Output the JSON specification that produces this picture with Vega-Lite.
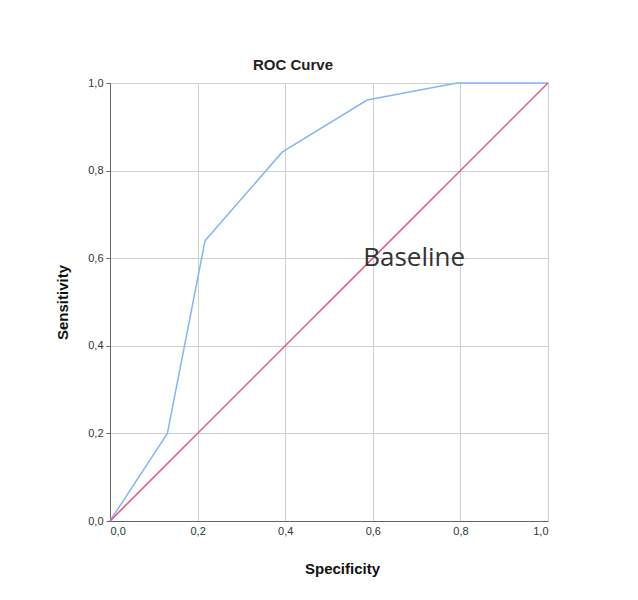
{
  "$schema": "https://vega.github.io/schema/vega-lite/v6.json",
  "autosize": "none",
  "width": 438,
  "height": 438,
  "padding": {"left": 110, "top": 83, "right": 90, "bottom": 79},
  "background": "white",
  "title": {"text": "ROC Curve", "font": "Liberation Sans", "fontSize": 15, "fontWeight": "bold", "color": "#222", "anchor": "middle", "dx": -36, "offset": 4},
  "config": {
    "view": {"stroke": "#bbb"},
    "axis": {"labelFont": "Liberation Sans", "labelFontSize": 11, "labelColor": "#333", "titleFont": "Liberation Sans", "titleFontSize": 15, "titleFontWeight": "bold", "titleColor": "#111", "gridColor": "#cfcfcf", "gridOpacity": 1, "domainColor": "#666", "tickColor": "#666", "tickSize": 4}
  },
  "layer": [
    {
      "data": {"values": [
        {"spec": 0, "sens": 0, "series": "ROC"},
        {"spec": 0.131, "sens": 0.2, "series": "ROC"},
        {"spec": 0.217, "sens": 0.64, "series": "ROC"},
        {"spec": 0.393, "sens": 0.842, "series": "ROC"},
        {"spec": 0.587, "sens": 0.961, "series": "ROC"},
        {"spec": 0.792, "sens": 1.0, "series": "ROC"},
        {"spec": 1.0, "sens": 1.0, "series": "ROC"},
        {"spec": 0, "sens": 0, "series": "Baseline"},
        {"spec": 1, "sens": 1, "series": "Baseline"}
      ]},
      "mark": {"type": "line", "strokeWidth": 1.5},
      "encoding": {
        "x": {"field": "spec", "type": "quantitative", "scale": {"domain": [0, 1], "nice": false}, "title": "Specificity",
          "axis": {"values": [0, 0.2, 0.4, 0.6, 0.8, 1], "labelExpr": "replace(format(datum.value, '.1f'), '.', ',')", "titleX": 232, "titleY": 47, "titleBaseline": "middle", "ticks": false, "labelPadding": 4}},
        "y": {"field": "sens", "type": "quantitative", "scale": {"domain": [0, 1], "nice": false}, "title": "Sensitivity",
          "axis": {"values": [0, 0.2, 0.4, 0.6, 0.8, 1], "labelExpr": "replace(format(datum.value, '.1f'), '.', ',')", "titleX": -48, "titleY": 219, "titleBaseline": "middle", "titleAngle": -90, "labelPadding": 3}},
        "color": {"field": "series", "type": "nominal", "scale": {"domain": ["ROC", "Baseline"], "range": ["#86b6f2", "#e9537a"]}, "legend": null},
        "order": {"field": "spec", "type": "quantitative"}
      }
    },
    {
      "data": {"values": [{"spec": 0.578, "sens": 0.6, "label": "Baseline"}]},
      "mark": {"type": "text", "align": "left", "baseline": "middle", "font": "Open Sans", "fontSize": 26, "color": "#333"},
      "encoding": {
        "x": {"field": "spec", "type": "quantitative"},
        "y": {"field": "sens", "type": "quantitative"},
        "text": {"field": "label"}
      }
    }
  ]
}
